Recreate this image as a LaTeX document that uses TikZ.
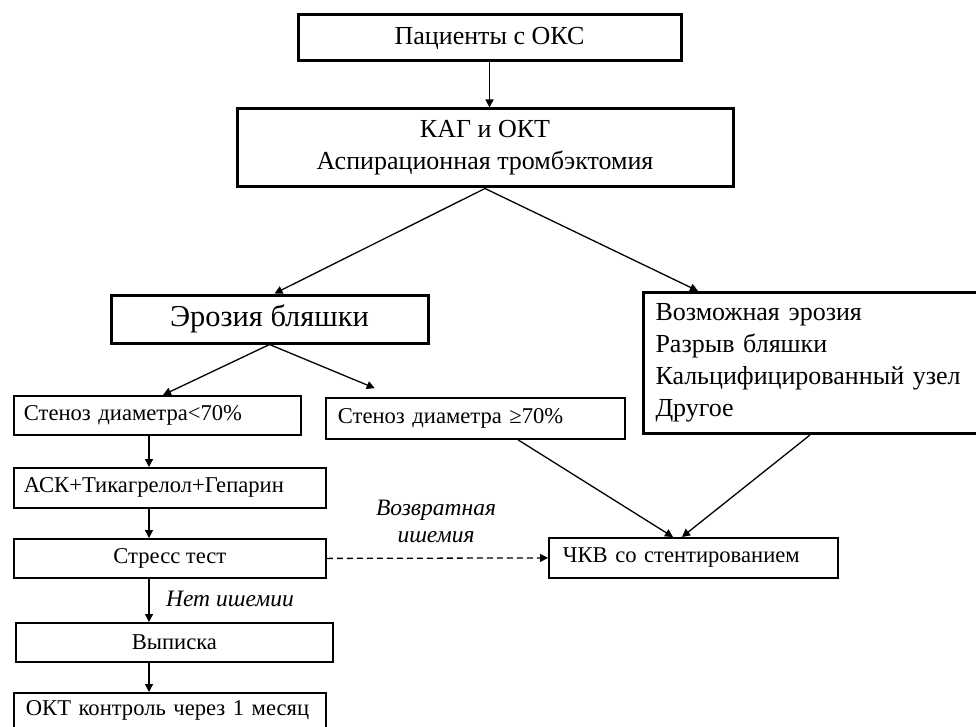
\documentclass[tikz,border=0pt]{standalone}
\usepackage{fontspec}
\setmainfont{Liberation Serif}
\usetikzlibrary{arrows.meta,calc}
\begin{document}
\begin{tikzpicture}[x=1pt,y=-1pt,
  thickbox/.style={draw, line width=3pt, inner sep=0pt, font=\fontsize{26}{32}\selectfont, align=center},
  thinbox/.style={draw, line width=1.8pt, inner ysep=0pt, font=\fontsize{22.6}{27}\selectfont},
  arr/.style={line width=1.3pt, -{Triangle[width=8pt,length=8pt]}},
  lbl/.style={font=\fontsize{23.5}{27}\selectfont\itshape, align=center}]
\useasboundingbox (0,0) rectangle (976,727);
\clip (0,0) rectangle (976,727);

\node[thickbox, minimum width=383pt, minimum height=46pt] (b1) at (489.5,38) {Пациенты с ОКС};
\node[thickbox, minimum width=496pt, minimum height=78pt] (b2) at (485,148) {КАГ и ОКТ\\Аспирационная тромбэктомия};
\node[thickbox, minimum width=317pt, minimum height=48pt, font=\fontsize{30.4}{36}\selectfont] (ero) at (269.5,319) {Эрозия бляшки};
\node[thickbox, anchor=north west, minimum width=400pt, minimum height=141pt, inner xsep=12pt, text width=376pt, align=left] (rb) at (642,291)
  {Возможная эрозия\\Разрыв бляшки\\Кальцифицированный узел\\Другое};

\node[thinbox, anchor=north west, minimum width=287pt, minimum height=39pt, inner xsep=10pt, text width=267pt, align=left] (s1) at (13,395) {Стеноз диаметра<70\%};
\node[thinbox, anchor=north west, minimum width=299pt, minimum height=41pt, inner xsep=12pt, text width=275pt, align=left] (s2) at (325,397) {Стеноз диаметра ≥70\%};
\node[thinbox, anchor=north west, minimum width=312pt, minimum height=40pt, inner xsep=10pt, text width=292pt, align=left] (s3) at (13,467) {АСК+Тикагрелол+Гепарин};
\node[thinbox, anchor=north west, minimum width=312pt, minimum height=39pt] (s4) at (13,538) {Стресс тест};
\node[thinbox, anchor=north west, minimum width=317pt, minimum height=39pt] (s5) at (15,622) {Выписка};
\node[thinbox, anchor=north west, minimum width=312pt, minimum height=36pt, inner xsep=12pt, text width=288pt, align=left] (s6) at (13,692) {ОКТ контроль через 1 месяц};
\node[thinbox, anchor=north west, minimum width=289pt, minimum height=40pt, inner xsep=14pt, text width=261pt, align=left] (pci) at (548,537) {ЧКВ со стентированием};

\node[lbl] (l1) at (230,599) {Нет ишемии};
\node[lbl] (l2) at (436,521) {Возвратная\\ишемия};

\draw[arr] (b1.south) -- (b1.south |- b2.north);
\draw[arr] (b2.south) -- ([xshift=5pt]ero.north);
\draw[arr] (b2.south) -- ([xshift=56pt]rb.north west);
\draw[arr] (ero.south) -- ([xshift=150pt]s1.north west);
\draw[arr, shorten >=23pt] (ero.south) -- ([xshift=71pt]s2.north west);
\draw[arr] ([xshift=136pt]s1.south west) -- ([xshift=136pt]s3.north west);
\draw[arr] ([xshift=136pt]s3.south west) -- ([xshift=136pt]s4.north west);
\draw[arr] ([xshift=136pt]s4.south west) -- ([xshift=134pt]s5.north west);
\draw[arr] ([xshift=134pt]s5.south west) -- ([xshift=136pt]s6.north west);
\draw[arr, dash pattern=on 6pt off 4pt] (s4.east) -- (pci.west);
\draw[arr] ([xshift=193pt]s2.south west) -- ([xshift=125pt]pci.north west);
\draw[arr] ([xshift=168pt]rb.south west) -- ([xshift=134pt]pci.north west);
\end{tikzpicture}
\end{document}
